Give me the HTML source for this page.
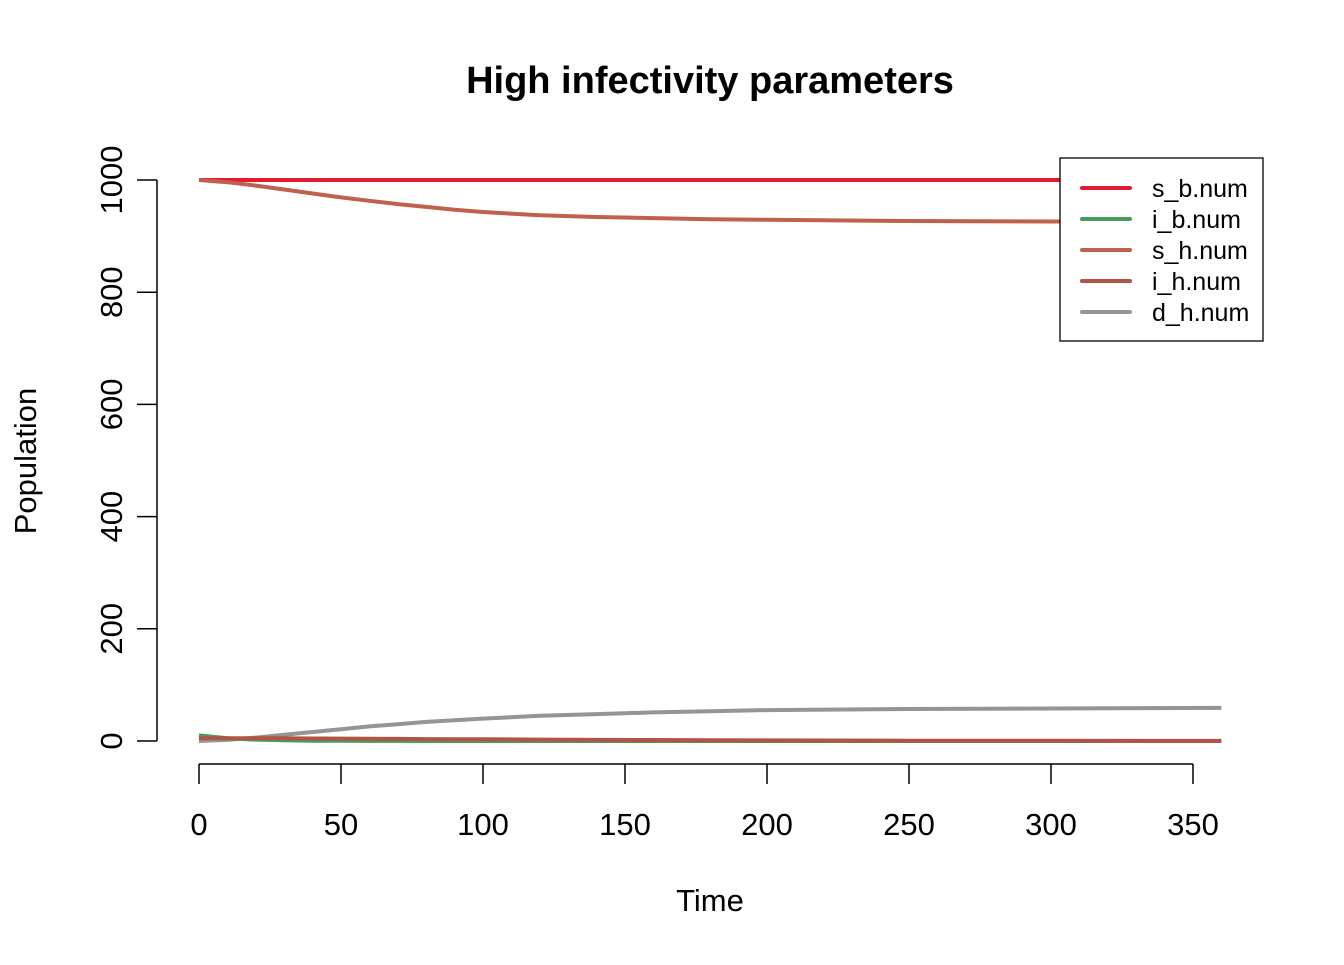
<!DOCTYPE html>
<html><head><meta charset="utf-8"><style>
body{margin:0;background:#fff}
svg text{font-family:"Liberation Sans",Arial,sans-serif}
</style></head><body>
<svg id="chart" width="1344" height="960">
<text x="710" y="93" text-anchor="middle" font-size="38" font-weight="bold">High infectivity parameters</text>
<text x="710" y="911" text-anchor="middle" font-size="31">Time</text>
<text transform="translate(36,461) rotate(-90)" text-anchor="middle" font-size="31">Population</text>
<g id="axes"></g>
<g id="series"></g>
<g id="legend"></g>
</svg>
<script>
const xTicks=[0,50,100,150,200,250,300,350];
const yTicks=[0,200,400,600,800,1000];
const times=[0,10,20,30,40,50,60,70,80,90,100,120,140,160,180,200,250,300,360];
const sB=[1000,1000,1000,1000,1000,1000,1000,1000,1000,1000,1000,1000,1000,1000,1000,1000,1000,1000,1000];
const iB=[10,5,2.5,1.2,0.6,0.3,0.2,0.1,0,0,0,0,0,0,0,0,0,0,0];
const sH=[1000,996,990,983,976,969,963,957,952,947,943,937,934,932,930,929,927,926,926];
const iH=[5,5,5,4.8,4.5,4.2,4,3.7,3.4,3.2,3,2.5,2,1.7,1.4,1.1,0.6,0.3,0.1];
const dH=[0,2,6,11,16,21,26,30,34,37,40,45,48,51,53,55,57,58,59];
const seriesNames=["s_b.num","i_b.num","s_h.num","i_h.num","d_h.num"];
const seriesData=[sB,iB,sH,iH,dH];
const colors=["#E41A2F","#4A9A5E","#C0604E","#B05545","#959595"];
const NS="http://www.w3.org/2000/svg";
const X=v=>199+v*2.84, Y=v=>741-v*0.561;
function mk(tag,attrs,parent){const e=document.createElementNS(NS,tag);for(const k in attrs)e.setAttribute(k,attrs[k]);parent.appendChild(e);return e;}
const axes=document.getElementById('axes');
let xa=mk('line',{x1:X(0),x2:X(350),y1:764,y2:764,stroke:'#000','stroke-width':1.5},axes);


xTicks.forEach(t=>{
 let l=mk('line',{x1:X(t),x2:X(t),y1:764,y2:784,stroke:'#000','stroke-width':1.5},axes);
 
 
 let tx=mk('text',{x:X(t),y:835,'text-anchor':'middle','font-size':31},axes);tx.textContent=t;
 
 
});
let ya=mk('line',{x1:157,x2:157,y1:Y(0),y2:Y(1000),stroke:'#000','stroke-width':1.5},axes);


yTicks.forEach(t=>{
 let l=mk('line',{x1:137,x2:157,y1:Y(t),y2:Y(t),stroke:'#000','stroke-width':1.5},axes);
 
 
 let tx=mk('text',{transform:`translate(122,${Y(t)}) rotate(-90)`,'text-anchor':'middle','font-size':31},axes);tx.textContent=t;
 
 
});
const sg=document.getElementById('series');
const order=[4,0,1,2,3];
order.forEach(i=>{
 const pts=times.map((t,j)=>X(t).toFixed(1)+','+Y(seriesData[i][j]).toFixed(1)).join(' ');
 let p=mk('polyline',{points:pts,fill:'none',stroke:colors[i],'stroke-width':4,'stroke-linejoin':'round'},sg);
 
 
});
const lg=document.getElementById('legend');
let box=mk('rect',{x:1060,y:158,width:203,height:183,fill:'#fff',stroke:'#000','stroke-width':1.3},lg);


seriesNames.forEach((n,i)=>{
 const y=188+i*31;
 let l=mk('line',{x1:1082,x2:1130,y1:y,y2:y,stroke:colors[i],'stroke-width':4,'stroke-linecap':'round'},lg);
 
 
 let t=mk('text',{x:1152,y:y+9,'font-size':25},lg);t.textContent=n;
 
 
});
</script>
</body></html>
